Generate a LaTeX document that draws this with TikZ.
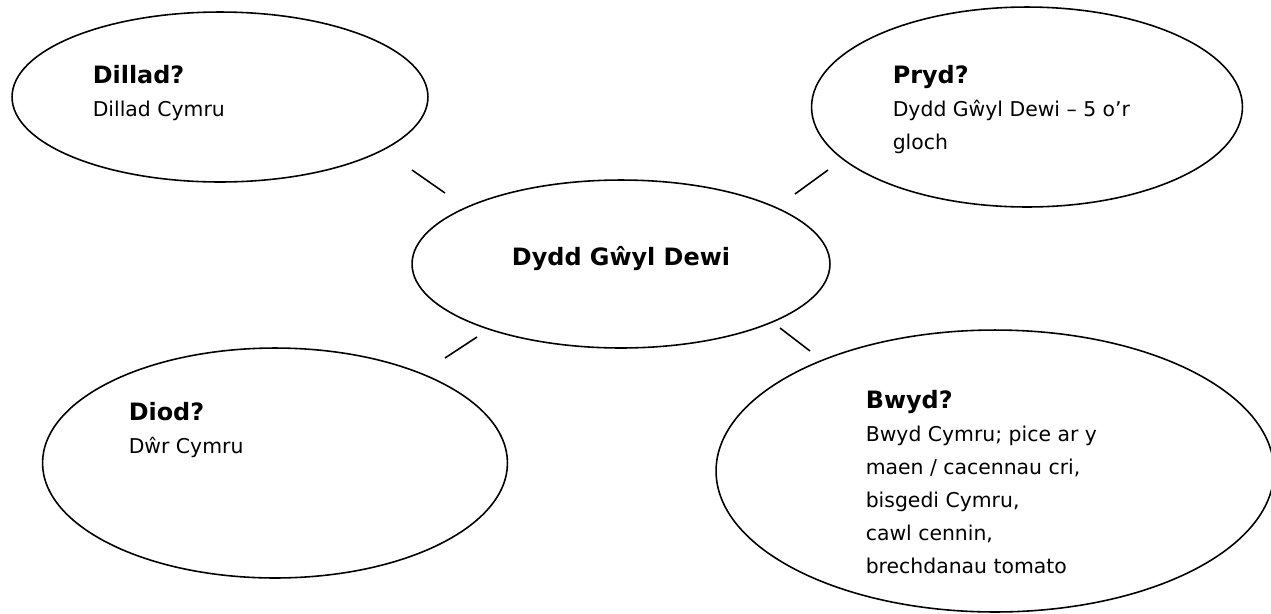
\documentclass[tikz,border=0pt]{standalone}
\usepackage{fontspec}
\setmainfont{DejaVu Sans}
\usetikzlibrary{shapes.geometric, positioning}

\newcommand{\hd}[1]{{\fontsize{13.6}{18.7}\selectfont\bfseries #1}}

\begin{document}
\begin{tikzpicture}[x=0.02cm,y=-0.02cm,line width=0.9pt,
    bubble/.style={draw, ellipse, inner sep=0pt},
    txt/.style={anchor=north west, inner sep=0pt, align=left, font=\fontsize{11.6}{18.7}\selectfont}]
    \useasboundingbox (0,0) rectangle (1271,613);

    \node[bubble, minimum width=8.32cm, minimum height=3.40cm] (dillad) at (220,97) {};
    \node[bubble, minimum width=8.62cm, minimum height=4.00cm] (pryd) at (1027,107) {};
    \node[bubble, minimum width=8.36cm, minimum height=3.36cm] (dewi) at (621,264) {};
    \node[bubble, minimum width=9.30cm, minimum height=4.60cm] (diod) at (275,463) {};
    \node[bubble, minimum width=11.16cm, minimum height=5.64cm] (bwyd) at (995,471) {};

    \node[anchor=base, inner sep=0pt] (dewitxt) at (621,265) {\hd{Dydd Gŵyl Dewi}};
    \node[txt] (dilladtxt) at (92,65) {\hd{Dillad?}\\Dillad Cymru};
    \node[txt] (prydtxt) at (892,65) {\hd{Pryd?}\\Dydd Gŵyl Dewi – 5 o’r\\gloch};
    \node[txt] (diodtxt) at (128,402) {\hd{Diod?}\\Dŵr Cymru};
    \node[txt] (bwydtxt) at (865,390) {\hd{Bwyd?}\\Bwyd Cymru; pice ar y\\maen / cacennau cri,\\bisgedi Cymru,\\cawl cennin,\\brechdanau tomato};

    % short links round the middle
    \coordinate (tl1) at (412,170); \coordinate (tl2) at (445,193);
    \coordinate (tr1) at (795,194); \coordinate (tr2) at (828,170);
    \coordinate (bl1) at (445,358); \coordinate (bl2) at (477,337);
    \coordinate (br1) at (780,328); \coordinate (br2) at (810,351);
    \draw (tl1) -- (tl2);
    \draw (tr1) -- (tr2);
    \draw (bl1) -- (bl2);
    \draw (br1) -- (br2);
\end{tikzpicture}
\end{document}
